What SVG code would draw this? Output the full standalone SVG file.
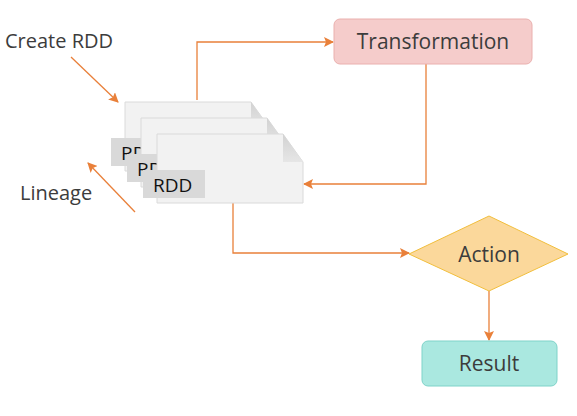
<svg xmlns="http://www.w3.org/2000/svg" width="577" height="416" viewBox="0 0 577 416">
<defs>
<marker id="ah" viewBox="0 0 10 10" refX="9" refY="5" markerWidth="10" markerHeight="10" markerUnits="userSpaceOnUse" orient="auto">
<path d="M0,0 L10,5 L0,10 L2,5 Z" fill="#e9803a"/>
</marker>
<linearGradient id="fg" x1="0" y1="0" x2="0" y2="1">
<stop offset="0" stop-color="#d2d2d2"/>
<stop offset="1" stop-color="#e6e6e6"/>
</linearGradient>
</defs>
<style>
text{font-family:"Open Sans","Noto Sans","Liberation Sans",sans-serif;fill:#3c3c3c}
.lbl{font-size:20px}
.node{font-size:21px}
.page{fill:#f2f2f2;stroke:#dadada;stroke-width:1}
.fold{fill:url(#fg)}
.tag{fill:#d9d9d9}
.tagt{font-size:19px;fill:#111}
.conn{fill:none;stroke:#e9803a;stroke-width:1.3}
</style>
<rect width="577" height="416" fill="#ffffff"/>
<g id="labels">
<text class="lbl" x="5" y="48">Create RDD</text>
<text class="lbl" x="20" y="200">Lineage</text>
</g>
<g id="connectors">
<path class="conn" d="M197,100 V42 H333" marker-end="url(#ah)"/>
<path class="conn" d="M426,64 V184 H304" marker-end="url(#ah)"/>
<path class="conn" d="M233,203 V253 H409" marker-end="url(#ah)"/>
<path class="conn" d="M489,291 V340" marker-end="url(#ah)"/>
<path class="conn" d="M71,57 L118,102" marker-end="url(#ah)"/>
<path class="conn" d="M135,212 L88,163" marker-end="url(#ah)"/>
</g>
<g id="rdd1">
<path class="page" d="M125,102 H251 L271,130 V171 H125 Z"/>
<path class="fold" d="M251,102 L271,130 H251 Z"/>
<rect class="tag" x="111" y="138" width="62" height="28"/>
<text class="tagt" x="121" y="160">RDD</text>
</g>
<g id="rdd2">
<path class="page" d="M141,118 H267 L287,146 V187 H141 Z"/>
<path class="fold" d="M267,118 L287,146 H267 Z"/>
<rect class="tag" x="127" y="154" width="62" height="28"/>
<text class="tagt" x="137" y="176">RDD</text>
</g>
<g id="rdd3">
<path class="page" d="M157,134 H283 L303,162 V203 H157 Z"/>
<path class="fold" d="M283,134 L303,162 H283 Z"/>
<rect class="tag" x="143" y="170" width="62" height="28"/>
<text class="tagt" x="153" y="192">RDD</text>
</g>
<g id="transformation">
<rect x="334" y="19" width="198" height="45" rx="6" fill="#f5cccb" stroke="#eab0ae"/>
<text class="node" x="433" y="49" text-anchor="middle">Transformation</text>
</g>
<g id="action">
<path d="M409,254 L489,216 L568,254 L489,291 Z" fill="#fbd89b" stroke="#f1be3c"/>
<text class="node" x="489" y="262" text-anchor="middle">Action</text>
</g>
<g id="result">
<rect x="422" y="341" width="135" height="45" rx="6" fill="#aae8e0" stroke="#7fd3c9"/>
<text class="node" x="489" y="371" text-anchor="middle">Result</text>
</g>
</svg>
